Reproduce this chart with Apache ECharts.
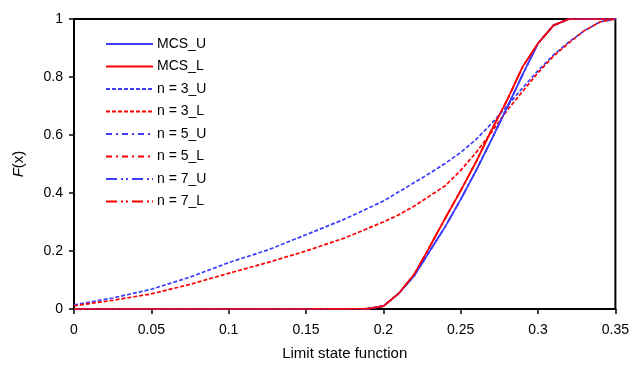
<!DOCTYPE html>
<html>
<head>
<meta charset="utf-8">
<script src="https://cdn.jsdelivr.net/npm/echarts@6/dist/echarts.min.js"></script>
<style>
  html, body { margin: 0; padding: 0; background: #fff; }
  #chart { width: 632px; height: 376px; }
</style>
</head>
<body>
<div id="chart"></div>
<script>
// x positions of the MCS curves
var xMcs = [0, 0.05, 0.1, 0.15, 0.19, 0.2, 0.21, 0.22, 0.23, 0.24, 0.25, 0.26, 0.27, 0.28, 0.29, 0.3, 0.31, 0.32, 0.33, 0.34, 0.35];
var mcsU = [0, 0, 0, 0, 0.001, 0.01, 0.054, 0.115, 0.2, 0.284, 0.378, 0.478, 0.585, 0.695, 0.808, 0.916, 0.978, 1, 1, 1, 1];
var mcsL = [0, 0, 0, 0, 0.001, 0.01, 0.054, 0.12, 0.215, 0.313, 0.408, 0.508, 0.618, 0.72, 0.835, 0.916, 0.978, 1, 1, 1, 1];
// n = 5 and n = 7 lie on top of the MCS curves
var n5U = [0, 0, 0, 0, 0.001, 0.01, 0.054, 0.115, 0.2, 0.284, 0.378, 0.478, 0.585, 0.695, 0.808, 0.916, 0.978, 1, 1, 1, 1];
var n5L = [0, 0, 0, 0, 0.001, 0.01, 0.054, 0.12, 0.215, 0.313, 0.408, 0.508, 0.618, 0.72, 0.835, 0.916, 0.978, 1, 1, 1, 1];
var n7U = [0, 0, 0, 0, 0.001, 0.01, 0.054, 0.115, 0.2, 0.284, 0.378, 0.478, 0.585, 0.695, 0.808, 0.916, 0.978, 1, 1, 1, 1];
var n7L = [0, 0, 0, 0, 0.001, 0.01, 0.054, 0.12, 0.215, 0.313, 0.408, 0.508, 0.618, 0.72, 0.835, 0.916, 0.978, 1, 1, 1, 1];

// x positions of the n = 3 curves
var xN3 = [0, 0.025, 0.05, 0.075, 0.1, 0.125, 0.15, 0.175, 0.2, 0.21, 0.22, 0.23, 0.24, 0.25, 0.26, 0.27, 0.28, 0.29, 0.3, 0.31, 0.32, 0.33, 0.34, 0.35];
var n3U = [0.014, 0.038, 0.068, 0.11, 0.16, 0.203, 0.256, 0.31, 0.372, 0.404, 0.436, 0.468, 0.502, 0.54, 0.585, 0.64, 0.7, 0.762, 0.822, 0.876, 0.921, 0.96, 0.99, 1];
var n3L = [0.011, 0.03, 0.052, 0.085, 0.123, 0.16, 0.2, 0.245, 0.3, 0.325, 0.355, 0.39, 0.425, 0.478, 0.54, 0.61, 0.685, 0.75, 0.815, 0.872, 0.918, 0.96, 0.99, 1];

var names = ['MCS_U', 'MCS_L', 'n = 3_U', 'n = 3_L', 'n = 5_U', 'n = 5_L', 'n = 7_U', 'n = 7_L'];

var BLUE = '#3c3cff';
var RED = '#ff0000';
var FONT = 'Liberation Sans, Arial';

function pairs(xs, ys) {
    var out = [];
    for (var i = 0; i < xs.length; i++) out.push([xs[i], ys[i]]);
    return out;
}

function line(name, xs, ys, color, dash) {
    return {
        name: name,
        type: 'line',
        symbol: 'none',
        animation: false,
        lineStyle: { color: color, width: 1.7, type: dash },
        itemStyle: { color: color },
        data: pairs(xs, ys)
    };
}

var chart = echarts.init(document.getElementById('chart'));
var option = {
    animation: false,
    grid: {
        left: 74, right: 15, top: 19, bottom: 67,
        show: true, borderColor: '#000', borderWidth: 2
    },
    legend: {
        data: names,
        orient: 'vertical',
        left: 100,
        top: 32,
        itemWidth: 47,
        itemHeight: 14,
        itemGap: 8.5,
        itemStyle: { opacity: 0 },
        textStyle: { fontFamily: FONT, fontSize: 14, color: '#000', padding: [0, 0, 0, -1] }
    },
    xAxis: {
        type: 'value',
        min: 0, max: 0.35, interval: 0.05,
        name: 'Limit state function',
        nameLocation: 'middle',
        nameGap: 37,
        nameTextStyle: { fontFamily: FONT, fontSize: 15, color: '#000' },
        splitLine: { show: false },
        axisLine: { lineStyle: { color: '#000', width: 2 } },
        axisTick: { length: 5, lineStyle: { color: '#000', width: 1.5 } },
        axisLabel: {
            margin: 14,
            fontFamily: FONT, fontSize: 14, color: '#000',
            formatter: function (v) { return String(+v.toFixed(2)); }
        }
    },
    yAxis: {
        type: 'value',
        min: 0, max: 1, interval: 0.2,
        name: '{i|F}(x)',
        nameLocation: 'middle',
        nameGap: 48,
        nameRotate: 90,
        nameTextStyle: {
            fontFamily: FONT, fontSize: 15, color: '#000',
            rich: { i: { fontStyle: 'italic', fontFamily: FONT, fontSize: 15, color: '#000' } }
        },
        splitLine: { show: false },
        axisLine: { lineStyle: { color: '#000', width: 2 } },
        axisTick: { length: 5, lineStyle: { color: '#000', width: 1.5 } },
        axisLabel: {
            margin: 11,
            fontFamily: FONT, fontSize: 14, color: '#000',
            formatter: function (v) { return String(+v.toFixed(1)); }
        }
    },
    series: [
        line(names[0], xMcs, mcsU, BLUE, 'solid'),
        line(names[1], xMcs, mcsL, RED, 'solid'),
        line(names[2], xN3, n3U, BLUE, [4, 2]),
        line(names[3], xN3, n3L, RED, [4, 2]),
        line(names[4], xMcs, n5U, BLUE, [6, 4, 2, 4]),
        line(names[5], xMcs, n5L, RED, [6, 4, 2, 4]),
        line(names[6], xMcs, n7U, BLUE, [11, 4, 2, 3, 2, 4]),
        line(names[7], xMcs, n7L, RED, [11, 4, 2, 3, 2, 4])
    ]
};
chart.setOption(option);
</script>
</body>
</html>
